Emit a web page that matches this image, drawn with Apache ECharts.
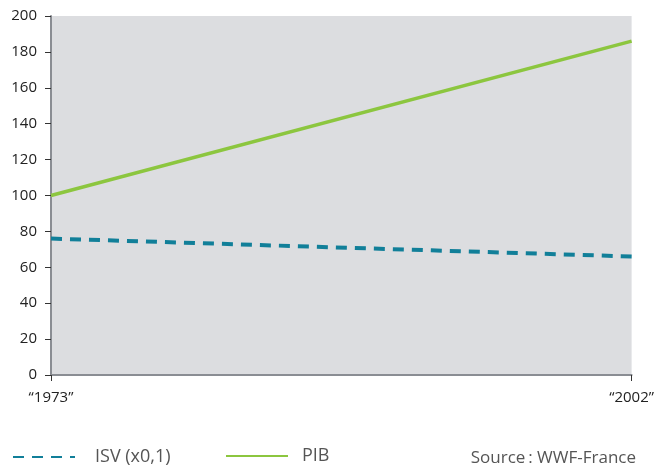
<!DOCTYPE html>
<html>
<head>
<meta charset="utf-8">
<script src="https://cdn.jsdelivr.net/npm/echarts@6/dist/echarts.min.js"></script>
<style>
  html, body { margin: 0; padding: 0; background: #fff; }
  #chart { width: 657px; height: 469px; }
</style>
</head>
<body>
<div id="chart"></div>
<script>
// years shown on the x axis
const years = ['\u201c1973\u201d', '\u201c2002\u201d']
// ISV (x0,1) and PIB, index 1973 = 100
const isv = [76, 66]
const pib = [100, 186]
const yTicks = [0, 200, 20]  // min, max, step

const font = '"Open Sans", "Noto Sans", sans-serif'
const chart = echarts.init(document.getElementById('chart'))

let option = {
  animation: false,
  textStyle: { fontFamily: font },
  grid: {
    left: 51, right: 21, top: 16, bottom: 94,
    show: true,
    backgroundColor: '#dcdde0',
    borderWidth: 0
  },
  legend: [{
    data: ['ISV (x0,1)'],
    left: 7, top: 443,
    itemWidth: 62, itemHeight: 14,
    itemStyle: { opacity: 0 },
    textStyle: { fontSize: 18, color: '#555', fontFamily: font, padding: [0, 0, 0, 15] }
  }, {
    data: ['PIB'],
    left: 220, top: 442,
    itemWidth: 62, itemHeight: 14,
    itemStyle: { opacity: 0 },
    textStyle: { fontSize: 18, color: '#555', fontFamily: font, padding: [0, 0, 0, 9] }
  }],
  graphic: [{
    type: 'text',
    right: 21, top: 450,
    style: { text: 'Source\u2009: WWF-France', fontSize: 17, fill: '#555', fontFamily: font }
  }],
  xAxis: {
    type: 'category',
    data: years,
    boundaryGap: false,
    axisLine: { lineStyle: { color: '#8a8d93', width: 2 } },
    axisTick: { show: true, length: 6, lineStyle: { color: '#333' } },
    axisLabel: { margin: 15, fontSize: 15, fontWeight: 500, color: '#222', fontFamily: font }
  },
  yAxis: {
    type: 'value',
    min: yTicks[0], max: yTicks[1], interval: yTicks[2],
    axisLine: { show: true, lineStyle: { color: '#8a8d93', width: 2 } },
    axisTick: { show: true, length: 6, lineStyle: { color: '#333' } },
    axisLabel: { margin: 14, fontSize: 15, fontWeight: 500, color: '#222', fontFamily: font },
    splitLine: { show: false }
  },
  series: [{
    name: 'ISV (x0,1)',
    type: 'line',
    data: isv,
    symbol: 'none',
    lineStyle: { color: '#117f99', width: 4, type: [11, 8] },
    itemStyle: { color: '#117f99' }
  }, {
    name: 'PIB',
    type: 'line',
    data: pib,
    symbol: 'none',
    lineStyle: { color: '#8cc63f', width: 3.5 },
    itemStyle: { color: '#8cc63f' }
  }]
}
chart.setOption(option)
</script>
</body>
</html>
